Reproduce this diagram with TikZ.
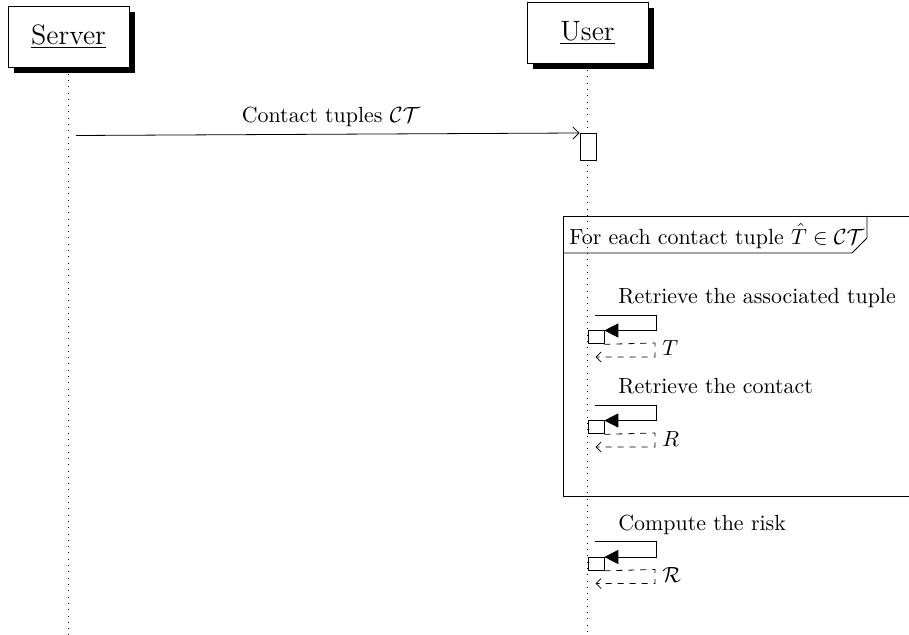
\documentclass[tikz,border=0pt]{standalone}
\usetikzlibrary{arrows.meta,shadows}
\begin{document}
\begin{tikzpicture}[x=0.5pt,y=-0.5pt,
  instbox/.style={draw,fill=white,minimum width=60.5pt,minimum height=30.5pt,inner sep=0pt,font=\fontsize{14}{17}\selectfont,
    drop shadow={shadow xshift=3pt,shadow yshift=-3pt,fill=black,opacity=1}},
  lifeline/.style={dash pattern=on 0.4pt off 2.75pt},
  actbox/.style={draw,fill=white,inner sep=0pt},
  mess/.style={-{Straight Barb[length=3pt,width=6pt]}},
  callarr/.style={-{Triangle[length=7pt,width=7pt]}},
  retarr/.style={dashed,-{Straight Barb[length=2.5pt,width=5pt]}},
  lbl/.style={inner sep=0pt,font=\fontsize{10.95}{13}\selectfont},
]
\useasboundingbox (0,0) rectangle (909,635);
% lifelines
\coordinate (sEnd) at (68.5,635);
\coordinate (uEnd) at (587.5,635);
\node[instbox] (server) at (68.5,36.5) {\underline{Server}};
\node[instbox] (user) at (587.5,33) {\underline{User}};
\draw[lifeline] (server.south) -- (sEnd);
\draw[lifeline] (user.south) -- (uEnd);
% message
\coordinate (m0) at (76,135.5);
\node[actbox,minimum width=8pt,minimum height=13.5pt,anchor=north west] (act0) at (579.5,133) {};
\draw[mess] (m0) -- (act0.north west);
\node[lbl,anchor=base] (mlbl) at (331,123) {Contact tuples $\mathcal{CT}$};
% frame
\coordinate (f1) at (563,216);
\coordinate (f2) at (909,216);
\coordinate (f3) at (563,496);
\coordinate (f4) at (909,496);
\draw (f2) -- (f1) -- (f3) -- (f4);
\coordinate (p1) at (867,216);
\coordinate (p2) at (867,238);
\coordinate (p3) at (852,253);
\coordinate (p4) at (563,253);
\draw (p1) -- (p2) -- (p3) -- (p4);
\node[lbl,anchor=west] (flbl) at (569,236) {For each contact tuple $\hat{T} \in \mathcal{CT}$};
% calls
\foreach \t/\txt/\ret/\nm in {315/{Retrieve the associated tuple}/{$T$}/a, 405/{Retrieve the contact}/{$R$}/b, 541.5/{Compute the risk}/{$\mathcal{R}$}/c}{
  \node[lbl,anchor=base west] (lab\nm) at (618,\t-11) {\txt};
  \node[actbox,minimum width=8pt,minimum height=6.5pt,anchor=north west] (box\nm) at (587.5,\t+15.5) {};
  \coordinate (s\nm) at (595,\t);
  \coordinate (r\nm) at (656,\t);
  \coordinate (q\nm) at (656,\t+15.5);
  \draw[callarr] (s\nm) -- (r\nm) -- (q\nm) -- (box\nm.north east);
  \coordinate (u\nm) at (655,\t+28);
  \coordinate (v\nm) at (655,\t+42);
  \coordinate (w\nm) at (595.5,\t+42);
  \draw[retarr] (box\nm.south east) -- (u\nm) -- (v\nm) -- (w\nm);
  \node[lbl,anchor=base west] (ret\nm) at (662,\t+41) {\ret};
}
\end{tikzpicture}
\end{document}
